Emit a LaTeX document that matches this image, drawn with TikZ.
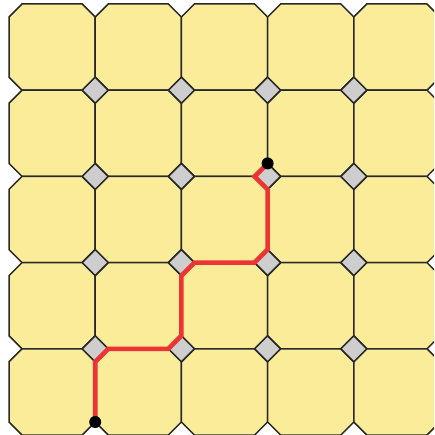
\documentclass[tikz,border=0pt]{standalone}
\begin{document}
\begin{tikzpicture}[x=1pt,y=-1pt,
  octa/.style={fill=octfill,draw=edgecol,line width=1.5pt,line join=miter},
  diam/.style={fill=diamfill,draw=edgecol,line width=1.5pt},
  route/.style={draw=routecol,line width=4.6pt,line join=miter},
  enddot/.style={circle,fill=black,inner sep=0pt,minimum size=12pt}]
\definecolor{octfill}{RGB}{250,236,152}
\definecolor{diamfill}{RGB}{206,206,206}
\definecolor{edgecol}{RGB}{40,40,40}
\definecolor{routecol}{RGB}{236,52,52}
\useasboundingbox (0,0) rectangle (434,435);
\clip (0,0) rectangle (434,435);
\fill[white] (0,0) rectangle (434,435);
\def\p{86.2}
\def\c{13}
\foreach \i in {0,...,4}{
  \foreach \j in {0,...,4}{
    \pgfmathsetmacro{\x}{9+\i*\p}
    \pgfmathsetmacro{\y}{4+\j*\p}
    \path[octa] (\x+\c,\y) -- (\x+\p-\c,\y) -- (\x+\p,\y+\c) -- (\x+\p,\y+\p-\c)
      -- (\x+\p-\c,\y+\p) -- (\x+\c,\y+\p) -- (\x,\y+\p-\c) -- (\x,\y+\c) -- cycle;
  }
}
\foreach \i in {1,...,4}{
  \foreach \j in {1,...,4}{
    \pgfmathsetmacro{\x}{9+\i*\p}
    \pgfmathsetmacro{\y}{4+\j*\p}
    \path[diam] (\x,\y-\c) -- (\x+\c,\y) -- (\x,\y+\c) -- (\x-\c,\y) -- cycle;
  }
}
% grid line positions
\pgfmathsetmacro{\Xa}{9+1*\p}
\pgfmathsetmacro{\Xb}{9+2*\p}
\pgfmathsetmacro{\Xc}{9+3*\p}
\pgfmathsetmacro{\Yb}{4+2*\p}
\pgfmathsetmacro{\Yc}{4+3*\p}
\pgfmathsetmacro{\Yd}{4+4*\p}
\pgfmathsetmacro{\Ye}{4+5*\p}
\coordinate (start) at (\Xa,\Ye-\c);
\coordinate (goal) at (\Xc,\Yb-\c);
\draw[route] (start) -- (\Xa,\Yd+\c) -- (\Xa+\c,\Yd) -- (\Xb-\c,\Yd) -- (\Xb,\Yd-\c)
  -- (\Xb,\Yc+\c) -- (\Xb+\c,\Yc) -- (\Xc-\c,\Yc) -- (\Xc,\Yc-\c)
  -- (\Xc,\Yb+\c) -- (\Xc-\c,\Yb) -- (goal);
\node[enddot] (s) at (start) {};
\node[enddot] (g) at (goal) {};
\end{tikzpicture}
\end{document}
